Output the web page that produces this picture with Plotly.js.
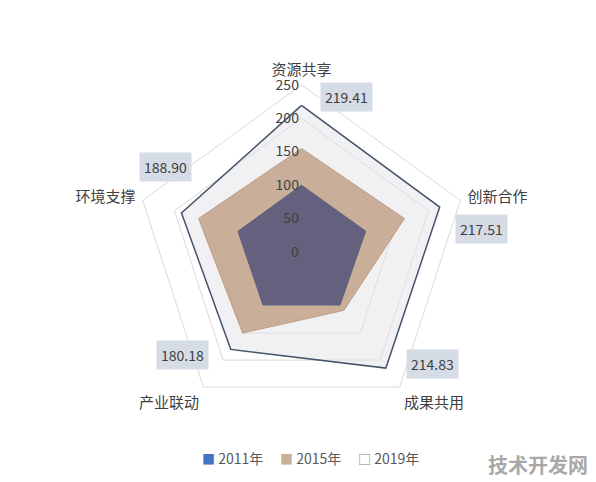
<!DOCTYPE html>
<html>
<head>
<meta charset="utf-8">
<script src="https://cdn.plot.ly/plotly-3.0.1.min.js"></script>
<style>
  html, body { margin: 0; padding: 0; background: #fff; }
  #chart { width: 596px; height: 482px; }
</style>
</head>
<body>
<div id="chart"></div>
<script>
// radar categories, clockwise from the top
const categories = ['资源共享', '创新合作', '成果共用', '产业联动', '环境支撑']
const years = ['2011年', '2015年', '2019年']
const values2011 = [100, 101, 98, 98, 100]
const values2015 = [155, 162, 108, 150, 162]
const values2019 = [219.41, 217.51, 214.83, 180.18, 188.90]
const radialTicks = [0, 50, 100, 150, 200, 250]

const W = 596
const H = 482
// polar centre and outer radius in px
const cx = 301.5
const cy = 252
const R = 167
const rMax = 250

const font = '"Noto Sans CJK SC", "Noto Sans", sans-serif'
const textColor = '#404040'

// per-label nudges for the 2019 value boxes (px, right / up)
const labelNudge = [[45, 8], [42, -22], [47, 4], [-48, -6], [-16, 46]]

const close = arr => arr.concat(arr[0])

const series = [
  { name: years[2], r: values2019, fill: 'rgba(228,228,234,0.5)', line: '#44546a', width: 1.5, swatch: '□', swatchColor: '#808080' },
  { name: years[1], r: values2015, fill: 'rgba(192,160,134,0.82)', line: 'rgba(185,152,128,0.9)', width: 1, swatch: '■', swatchColor: '#c9ae98' },
  { name: years[0], r: values2011, fill: 'rgba(95,94,125,0.96)', line: '#5f5e7d', width: 1, swatch: '■', swatchColor: '#4472c4' },
]

const data = series.map(s => ({
  type: 'scatterpolar',
  r: close(s.r),
  theta: close(categories),
  mode: 'lines',
  fill: 'toself',
  fillcolor: s.fill,
  line: { color: s.line, width: s.width },
  name: s.name,
  hoverinfo: 'skip',
}))

// value boxes for 2019, placed from the polar geometry
const annotations = values2019.map((v, i) => {
  const ang = (90 - i * 360 / categories.length) * Math.PI / 180
  const rp = v / rMax * R
  return {
    xref: 'paper', yref: 'paper',
    x: cx / W, y: (H - cy) / H,
    xanchor: 'center', yanchor: 'middle',
    xshift: rp * Math.cos(ang) + labelNudge[i][0],
    yshift: rp * Math.sin(ang) + labelNudge[i][1],
    text: v.toFixed(2),
    showarrow: false,
    bgcolor: '#d6dce5',
    borderpad: 4,
    font: { family: font, size: 14, color: textColor },
  }
})

// legend row: tight swatch + label like the office chart
const legendX = 200
const legendPitch = 78
years.forEach((y, i) => {
  const s = series.find(d => d.name === y)
  annotations.push({
    xref: 'paper', yref: 'paper',
    x: (legendX + i * legendPitch) / W, y: (H - 458) / H,
    xanchor: 'left', yanchor: 'middle',
    text: `<span style="color:${s.swatchColor};font-size:13px">${s.swatch}</span> ${y}`,
    showarrow: false,
    font: { family: font, size: 14, color: '#595959' },
  })
})

annotations.push({
  xref: 'paper', yref: 'paper',
  x: 538 / W, y: (H - 464) / H,
  xanchor: 'center', yanchor: 'middle',
  text: '<b>技术开发网</b>',
  showarrow: false,
  font: { family: font, size: 20, color: '#a8a8a8' },
})

const layout = {
  width: W,
  height: H,
  margin: { l: 0, r: 0, t: 0, b: 0 },
  paper_bgcolor: '#ffffff',
  font: { family: font, size: 14, color: textColor },
  showlegend: false,
  polar: {
    domain: {
      x: [(cx - R) / W, (cx + R) / W],
      y: [(H - cy - R) / H, (H - cy + R) / H],
    },
    gridshape: 'linear',
    bgcolor: '#ffffff',
    radialaxis: {
      range: [0, rMax],
      tickvals: radialTicks,
      angle: 90,
      tickangle: 90,
      side: 'counterclockwise',
      showline: false,
      ticks: '',
      gridcolor: '#d9d9d9',
      gridwidth: 1,
      tickfont: { family: font, size: 14, color: textColor },
      layer: 'above traces',
    },
    angularaxis: {
      direction: 'clockwise',
      rotation: 90,
      showgrid: false,
      showline: true,
      linecolor: '#d9d9d9',
      linewidth: 1,
      ticks: 'outside',
      ticklen: 4,
      tickcolor: 'rgba(0,0,0,0)',
      tickfont: { family: font, size: 15, color: textColor },
    },
  },
  annotations,
}

Plotly.newPlot('chart', data, layout, { displayModeBar: false, staticPlot: true })
</script>
</body>
</html>
